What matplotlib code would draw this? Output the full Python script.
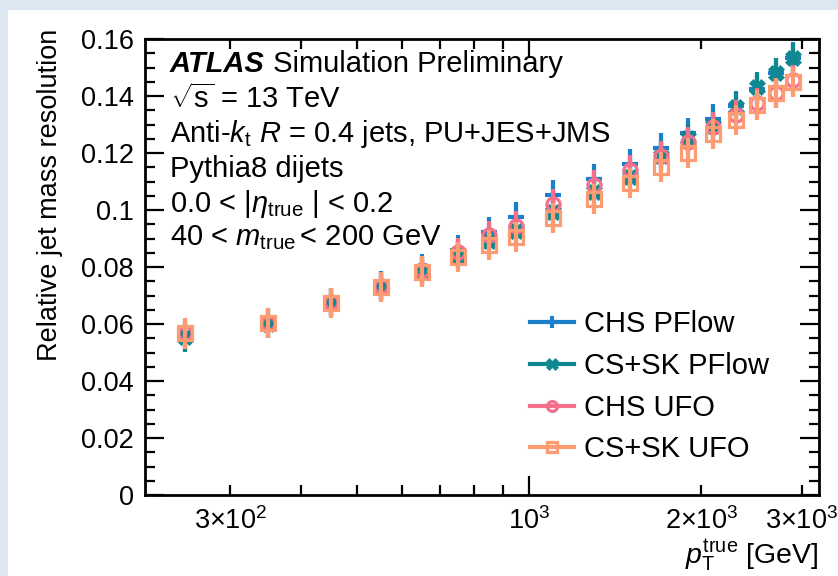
import matplotlib
matplotlib.use("Agg")
import matplotlib.pyplot as plt
from matplotlib.lines import Line2D
from matplotlib.patches import Rectangle
from matplotlib.ticker import FixedLocator, FixedFormatter, MultipleLocator, FormatStrFormatter

plt.rcParams['font.family'] = ['Liberation Sans', 'DejaVu Sans']
plt.rcParams['mathtext.fontset'] = 'custom'
plt.rcParams['mathtext.rm'] = 'Liberation Sans'
plt.rcParams['mathtext.it'] = 'Liberation Sans:italic'
plt.rcParams['mathtext.bf'] = 'Liberation Sans:bold'

# ---- data ----
pt = [250, 350, 450, 550, 650, 750, 850, 950, 1100, 1300, 1500, 1700, 1900, 2100, 2300, 2500, 2700, 2900]
chs_pflow = [0.0560, 0.0605, 0.0678, 0.0735, 0.0795, 0.0860, 0.0923, 0.0976, 0.1053, 0.1109, 0.1161, 0.1218,
             0.1270, 0.1319, 0.1365, 0.1425, 0.1480, 0.1535]
cssk_pflow = [0.0553, 0.0600, 0.0673, 0.0730, 0.0785, 0.0840, 0.0890, 0.0925, 0.0993, 0.1063, 0.1116, 0.1190,
              0.1253, 0.1295, 0.1362, 0.1432, 0.1480, 0.1533]
chs_ufo = [0.0570, 0.0605, 0.0678, 0.0733, 0.0790, 0.0853, 0.0912, 0.0944, 0.1021, 0.1088, 0.1140, 0.1190,
           0.1239, 0.1291, 0.1333, 0.1375, 0.1410, 0.1455]
cssk_ufo = [0.0567, 0.0603, 0.0673, 0.0730, 0.0784, 0.0836, 0.0877, 0.0905, 0.0972, 0.1038, 0.1095, 0.1151,
            0.1200, 0.1267, 0.1316, 0.1368, 0.1410, 0.1449]
err_chs_pflow = [0.0050, 0.0050, 0.0050, 0.0050, 0.0050, 0.0052, 0.0052, 0.0052, 0.0053, 0.0053, 0.0053, 0.0053,
                 0.0053, 0.0053, 0.0053, 0.0053, 0.0053, 0.0053]
err_cssk_pflow = [0.0050, 0.0050, 0.0050, 0.0050, 0.0050, 0.0050, 0.0050, 0.0052, 0.0052, 0.0052, 0.0053, 0.0053,
                  0.0053, 0.0053, 0.0053, 0.0053, 0.0053, 0.0053]
err_chs_ufo = [0.0050, 0.0050, 0.0050, 0.0050, 0.0050, 0.0050, 0.0050, 0.0052, 0.0052, 0.0052, 0.0053, 0.0053,
               0.0053, 0.0053, 0.0053, 0.0053, 0.0053, 0.0053]
err_cssk_ufo = [0.0053, 0.0053, 0.0053, 0.0053, 0.0053, 0.0053, 0.0053, 0.0053, 0.0053, 0.0053, 0.0053, 0.0053,
                0.0053, 0.0053, 0.0053, 0.0053, 0.0053, 0.0053]

labels = ["CHS PFlow", "CS+SK PFlow", "CHS UFO", "CS+SK UFO"]
xtick_vals = [300, 1000, 2000, 3000]
xtick_labels = [r"$3{\times}10^{2}$", r"$10^{3}$", r"$2{\times}10^{3}$", r"$3{\times}10^{3}$"]

colors = ['#1a7fcc', '#0f8891', '#f4708a', '#fd9b73']

fig = plt.figure(figsize=(8.38, 5.76), dpi=100, facecolor='#dde7f2')
fig.patches.append(Rectangle((8/838, 0), 1, 1 - 10/576, transform=fig.transFigure,
                             facecolor='white', edgecolor='none', zorder=-10))
ax = fig.add_axes([145/838, 1 - 495/576, 674/838, 456/576])

series = [
    (chs_pflow, err_chs_pflow, dict(marker='+', ms=12, mew=3.0, mfc=colors[0])),
    (cssk_pflow, err_cssk_pflow, dict(marker='X', ms=11, mew=0.5, mfc=colors[1])),
    (chs_ufo, err_chs_ufo, dict(marker='o', ms=9.5, mew=2.3, mfc='none')),
    (cssk_ufo, err_cssk_ufo, dict(marker='s', ms=9.5, mew=2.3, mfc='none')),
]
handles = []
for i, (vals, errs, mk) in enumerate(series):
    ax.errorbar(pt, vals, yerr=errs, fmt='none', ecolor=colors[i], elinewidth=3, capsize=0, zorder=2 + i)
    ax.plot(pt, vals, linestyle='none', color=colors[i], mec=colors[i], zorder=2.5 + i, **mk)
    handles.append(Line2D([], [], color=colors[i], lw=3, mec=colors[i], **dict(mk, ms=mk['ms'] * 0.75)))

ax.set_xscale('log')
ax.set_xlim(213, 3215)
ax.set_ylim(0, 0.16)

ax.xaxis.set_minor_locator(FixedLocator([300, 400, 500, 600, 700, 800, 900, 2000, 3000]))
ax.xaxis.set_minor_formatter(FixedFormatter([]))
ax.set_xticks(xtick_vals, minor=False)
ax.set_xticklabels(xtick_labels)
ax.yaxis.set_major_locator(MultipleLocator(0.02))
ax.yaxis.set_minor_locator(MultipleLocator(0.005))
ax.yaxis.set_major_formatter(FormatStrFormatter('%g'))

ax.tick_params(which='both', direction='in', top=True, right=True, width=1.6, labelsize=19.5, color='black')
ax.tick_params(which='major', axis='y', length=14, pad=8)
ax.tick_params(which='minor', axis='y', length=7)
ax.tick_params(which='major', axis='x', length=7, pad=9)
ax.tick_params(which='minor', axis='x', length=7)
for s in ax.spines.values():
    s.set_linewidth(2)

for t in ax.xaxis.get_major_ticks():
    if abs(t.get_loc() - 1000) < 1:
        t.tick1line.set_markersize(14)
        t.tick2line.set_markersize(14)

ax.set_ylabel("Relative jet mass resolution", fontsize=19.5, loc='top')
ax.yaxis.set_label_coords(-0.122, 1.022)
ax.set_xlabel(r"$p_{\mathrm{T}}^{\mathrm{true}}$ [GeV]", fontsize=20.5, loc='right')
ax.xaxis.set_label_coords(1.0, -0.092)

tx = 0.037
fs = 21
t1 = ax.text(tx, 0.9276, "ATLAS", fontsize=fs, fontweight='bold', fontstyle='italic', transform=ax.transAxes, va='baseline')
ax.annotate(" Simulation Preliminary", xycoords=t1, xy=(1, 0), va='bottom', fontsize=fs)
ax.text(tx, 0.8487, r"$\sqrt{\mathrm{s}}$ = 13 TeV", fontsize=fs, transform=ax.transAxes, va='baseline')
ax.text(tx, 0.7741, r"Anti-$k_{\mathrm{t}}$ $R$ = 0.4 jets, PU+JES+JMS", fontsize=fs, transform=ax.transAxes, va='baseline')
ax.text(tx, 0.6974, "Pythia8 dijets", fontsize=fs, transform=ax.transAxes, va='baseline')
ax.text(tx, 0.6206, r"0.0 < |$\eta_{\mathrm{true}}$ | < 0.2", fontsize=fs, transform=ax.transAxes, va='baseline')
ax.text(tx, 0.5482, r"40 < $m_{\mathrm{true}}\,$< 200 GeV", fontsize=fs, transform=ax.transAxes, va='baseline')

leg = ax.legend(handles, labels, loc='upper left', bbox_to_anchor=(0.571, 0.405), frameon=False,
                fontsize=21, handlelength=1.5, handletextpad=0.35, labelspacing=0.47, borderaxespad=0,
                borderpad=0)

fig.savefig("out.png", dpi=100, facecolor=fig.get_facecolor())
